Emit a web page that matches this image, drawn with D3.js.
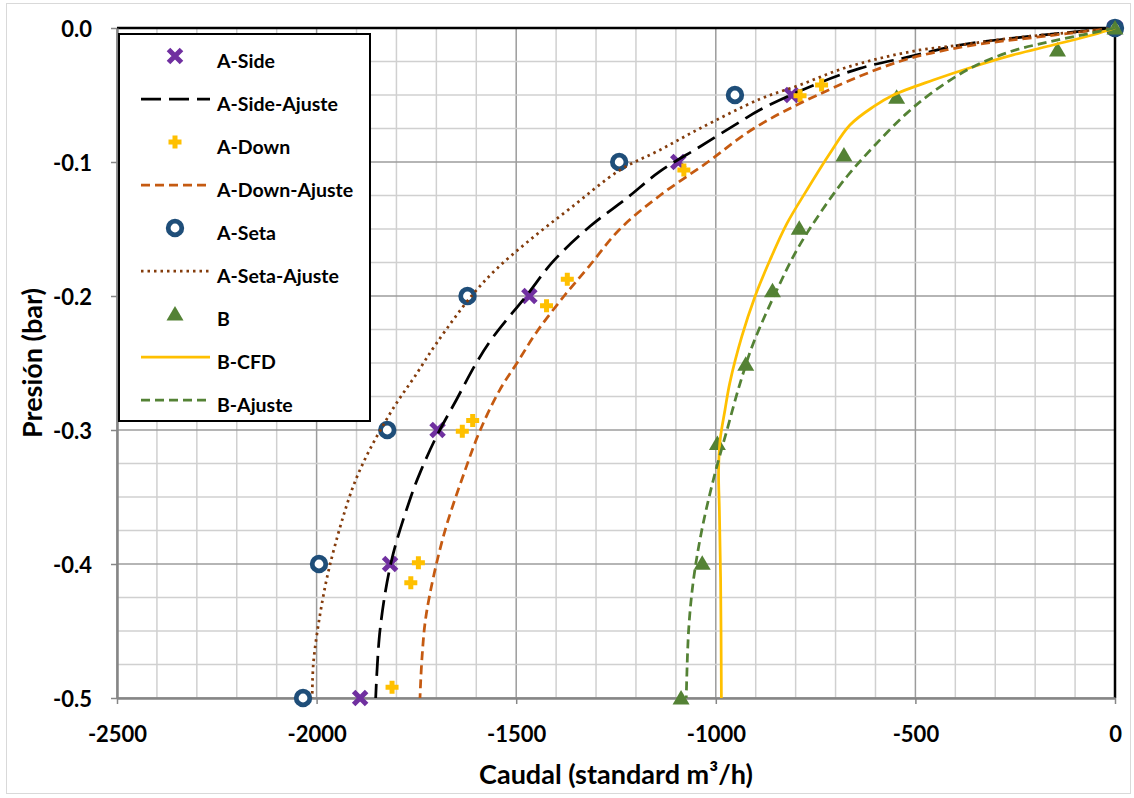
<!DOCTYPE html>
<html><head><meta charset="utf-8">
<script src="https://cdn.jsdelivr.net/npm/d3@7"></script>
<style>
html,body{margin:0;padding:0;background:#fff;}
svg{display:block;font-family:Lato,"Open Sans",sans-serif;font-weight:bold;}
</style></head>
<body><svg id="chart" width="1134" height="798"></svg>
<script>
// ---------- data ----------
const xTicks = [-2500, -2000, -1500, -1000, -500, 0];
const xTickLabels = ["-2500", "-2000", "-1500", "-1000", "-500", "0"];
const yTicks = [0, -0.1, -0.2, -0.3, -0.4, -0.5];
const yTickLabels = ["0.0", "-0.1", "-0.2", "-0.3", "-0.4", "-0.5"];

// measured points (caudal, presion)
const aSideQ = [0, -810, -1094, -1467, -1697, -1816, -1891];
const aSideP = [0, -0.05, -0.1, -0.2, -0.3, -0.4, -0.5];

const aDownQ = [0, -735, -789, -1080, -1372, -1424, -1609, -1635, -1745, -1764, -1811];
const aDownP = [0, -0.0425, -0.0505, -0.106, -0.1875, -0.2072, -0.293, -0.301, -0.399, -0.414, -0.492];

const aSetaQ = [0, -952, -1242, -1622, -1823, -1994, -2034];
const aSetaP = [0, -0.05, -0.1, -0.2, -0.3, -0.4, -0.5];

const bQ = [0, -144, -547, -679, -791, -858, -925, -996, -1034, -1087];
const bP = [0, -0.0164, -0.0517, -0.0948, -0.1495, -0.196, -0.251, -0.31, -0.3995, -0.5];

// fitted / simulated curves
const aSideFitQ = [0, -221, -388, -514, -639, -764, -889, -939, -1040, -1140, -1223, -1315, -1407, -1475, -1557, -1600, -1650, -1700, -1741, -1764, -1812, -1841, -1852];
const aSideFitP = [0, -0.0065, -0.0127, -0.0214, -0.0301, -0.0438, -0.061, -0.0699, -0.0886, -0.107, -0.127, -0.148, -0.174, -0.2, -0.2303, -0.25, -0.2776, -0.305, -0.332, -0.35, -0.397, -0.449, -0.5];

const aDownFitQ = [0, -200, -370, -540, -745, -905, -1020, -1140, -1240, -1318, -1380, -1449, -1498, -1541, -1590, -1628, -1683, -1725, -1736, -1741];
const aDownFitP = [0, -0.007, -0.0135, -0.025, -0.05, -0.075, -0.1, -0.125, -0.15, -0.178, -0.2, -0.227, -0.25, -0.27, -0.3, -0.33, -0.38, -0.437, -0.47, -0.5];

const aSetaFitQ = [0, -138, -263, -388, -488, -589, -689, -789, -889, -1040, -1140, -1240, -1365, -1465, -1550, -1612, -1699, -1754, -1800, -1840, -1876, -1912, -1966, -1991, -2008, -2011];
const aSetaFitP = [0, -0.004, -0.0077, -0.0127, -0.0164, -0.0226, -0.031, -0.0425, -0.053, -0.075, -0.091, -0.106, -0.1346, -0.158, -0.18, -0.2, -0.235, -0.26, -0.28, -0.3, -0.32, -0.345, -0.4, -0.437, -0.474, -0.5];

const bCfdQ = [0, -54, -155, -255, -355, -455, -555, -605, -664, -714, -772, -822, -864, -902, -935, -965, -977, -989, -993, -991, -988, -986];
const bCfdP = [0, -0.005, -0.0127, -0.0201, -0.0289, -0.0388, -0.05, -0.0587, -0.0724, -0.0935, -0.121, -0.146, -0.173, -0.2005, -0.2304, -0.265, -0.285, -0.307, -0.33, -0.36, -0.41, -0.5];

const bFitQ = [0, -63, -163, -263, -363, -455, -522, -605, -672, -739, -797, -847, -906, -939, -972, -1006, -1035, -1056, -1068, -1074];
const bFitP = [0, -0.004, -0.0102, -0.0177, -0.0301, -0.0475, -0.0637, -0.0886, -0.111, -0.1383, -0.1657, -0.1955, -0.2353, -0.265, -0.3, -0.337, -0.3746, -0.412, -0.449, -0.5];

const seriesNames = ["A-Side", "A-Side-Ajuste", "A-Down", "A-Down-Ajuste", "A-Seta", "A-Seta-Ajuste", "B", "B-CFD", "B-Ajuste"];

// ---------- layout / style ----------
const W = 1134, H = 798;
const L = 117, R = 1115, T = 28, B = 698;
const svg = d3.select("#chart");
const x = d3.scaleLinear().domain([-2500, 0]).range([L, R]);
const y = d3.scaleLinear().domain([-0.5, 0]).range([B, T]);

const zip = (qs, ps) => qs.map((q, i) => [q, ps[i]]);

// outer chart border
svg.append("rect").attr("x", 6.5).attr("y", 3.5).attr("width", W - 10).attr("height", H - 8)
  .attr("fill", "#fff").attr("stroke", "#d9d9d9").attr("stroke-width", 1);

// gridlines
const g = svg.append("g");
const xMinor = d3.range(-2500, 1, 100);
const yMinor = d3.range(0, 21).map(i => -0.5 + i * 0.025);
g.selectAll(".xm").data(xMinor).join("line")
  .attr("x1", d => x(d)).attr("x2", d => x(d)).attr("y1", T).attr("y2", B)
  .attr("stroke", d => Math.abs(d % 500) < 1e-6 ? "#9c9c9c" : "#d0d0d0").attr("stroke-width", 1.5);
g.selectAll(".ym").data(yMinor).join("line")
  .attr("x1", L).attr("x2", R).attr("y1", d => y(d)).attr("y2", d => y(d))
  .attr("stroke", (d, i) => i % 4 === 0 ? "#9c9c9c" : "#d0d0d0").attr("stroke-width", 1.5);

// plot border
svg.append("line").attr("x1", L).attr("x2", R + 1).attr("y1", T).attr("y2", T).attr("stroke", "#000").attr("stroke-width", 2.5);
svg.append("line").attr("x1", R).attr("x2", R).attr("y1", T).attr("y2", B).attr("stroke", "#000").attr("stroke-width", 2.5);

// axes
const xAxis = d3.axisBottom(x).tickValues(xTicks).tickFormat((d, i) => xTickLabels[i]).tickSize(6).tickSizeOuter(0);
const yAxis = d3.axisLeft(y).tickValues(yTicks).tickFormat((d, i) => yTickLabels[i]).tickSize(6).tickSizeOuter(0);
const gx = svg.append("g").attr("transform", `translate(0,${B})`).call(xAxis);
const gy = svg.append("g").attr("transform", `translate(${L},0)`).call(yAxis);
[gx, gy].forEach(a => {
  a.select(".domain").attr("stroke", "#868686").attr("stroke-width", 2.5);
  a.selectAll(".tick line").attr("stroke", "#868686").attr("stroke-width", 1.5);
  a.selectAll(".tick text").attr("fill", "#000").attr("font-size", 22).attr("font-weight", "bold")
    .attr("font-family", "Lato");
});
gx.selectAll(".tick text").attr("dy", null).attr("y", 35).attr("dominant-baseline", "central");
gy.selectAll(".tick text").attr("dy", null).attr("x", -25).attr("dominant-baseline", "central");

// axis titles
svg.append("text").attr("x", (L + R) / 2).attr("y", 773).attr("text-anchor", "middle")
  .attr("dominant-baseline", "central").attr("font-size", 27).text("Caudal (standard m³/h)");
svg.append("text").attr("transform", `translate(31,${(T + B) / 2}) rotate(-90)`).attr("text-anchor", "middle")
  .attr("dominant-baseline", "central").attr("font-size", 27).text("Presión (bar)");

// ---------- series ----------
const line = d3.line().x(d => x(d[0])).y(d => y(d[1])).curve(d3.curveCatmullRom.alpha(0.5));
const styles = {
  "A-Side": {type: "x", color: "#7030A0"},
  "A-Side-Ajuste": {type: "line", color: "#000000", dash: "20,8", w: 2.75},
  "A-Down": {type: "plus", color: "#FFC000"},
  "A-Down-Ajuste": {type: "line", color: "#C55A11", dash: "9,5", w: 2.75},
  "A-Seta": {type: "circle", color: "#1F4E79"},
  "A-Seta-Ajuste": {type: "line", color: "#843C0C", dash: "2.5,4", w: 2.75},
  "B": {type: "tri", color: "#548235"},
  "B-CFD": {type: "line", color: "#FFC000", dash: null, w: 2.75},
  "B-Ajuste": {type: "line", color: "#548235", dash: "9,5", w: 2.75}
};
const dataMap = {
  "A-Side": zip(aSideQ, aSideP),
  "A-Side-Ajuste": zip(aSideFitQ, aSideFitP),
  "A-Down": zip(aDownQ, aDownP),
  "A-Down-Ajuste": zip(aDownFitQ, aDownFitP),
  "A-Seta": zip(aSetaQ, aSetaP),
  "A-Seta-Ajuste": zip(aSetaFitQ, aSetaFitP),
  "B": zip(bQ, bP),
  "B-CFD": zip(bCfdQ, bCfdP),
  "B-Ajuste": zip(bFitQ, bFitP)
};

function drawMarker(sel, type, color) {
  if (type === "x") {
    sel.append("path").attr("d", "M-6.5,-6.5L6.5,6.5M-6.5,6.5L6.5,-6.5").attr("stroke", color).attr("stroke-width", 5).attr("fill", "none");
  } else if (type === "plus") {
    sel.append("path").attr("d", "M-6.5,0L6.5,0M0,-6.5L0,6.5").attr("stroke", color).attr("stroke-width", 5).attr("fill", "none");
  } else if (type === "circle") {
    sel.append("circle").attr("r", 6.8).attr("fill", "#fff").attr("stroke", color).attr("stroke-width", 4.8);
  } else if (type === "tri") {
    sel.append("path").attr("d", "M0,-8L8.5,6.5L-8.5,6.5Z").attr("fill", color);
  }
}

const plotG = svg.append("g");
seriesNames.forEach(name => {
  const st = styles[name], data = dataMap[name];
  if (st.type === "line") {
    plotG.append("path").datum(data).attr("d", line).attr("fill", "none")
      .attr("stroke", st.color).attr("stroke-width", st.w)
      .attr("stroke-dasharray", st.dash);
  } else {
    data.forEach(d => {
      const m = plotG.append("g").attr("transform", `translate(${x(d[0])},${y(d[1])})`);
      drawMarker(m, st.type, st.color);
    });
  }
});

// ---------- legend ----------
const lg = svg.append("g");
lg.append("rect").attr("x", 119).attr("y", 34).attr("width", 251).attr("height", 387)
  .attr("fill", "#fff").attr("stroke", "#000").attr("stroke-width", 2);
seriesNames.forEach((name, i) => {
  const cy = 56 + i * 43;
  const st = styles[name];
  if (st.type === "line") {
    lg.append("line").attr("x1", 141).attr("x2", 210).attr("y1", cy).attr("y2", cy)
      .attr("stroke", st.color).attr("stroke-width", st.w).attr("stroke-dasharray", st.dash);
  } else {
    const m = lg.append("g").attr("transform", `translate(175,${cy})`);
    drawMarker(m, st.type, st.color);
  }
  lg.append("text").attr("x", 217).attr("y", cy + 4.5).attr("dominant-baseline", "central")
    .attr("font-size", 19.5).text(name);
});
</script></body></html>
